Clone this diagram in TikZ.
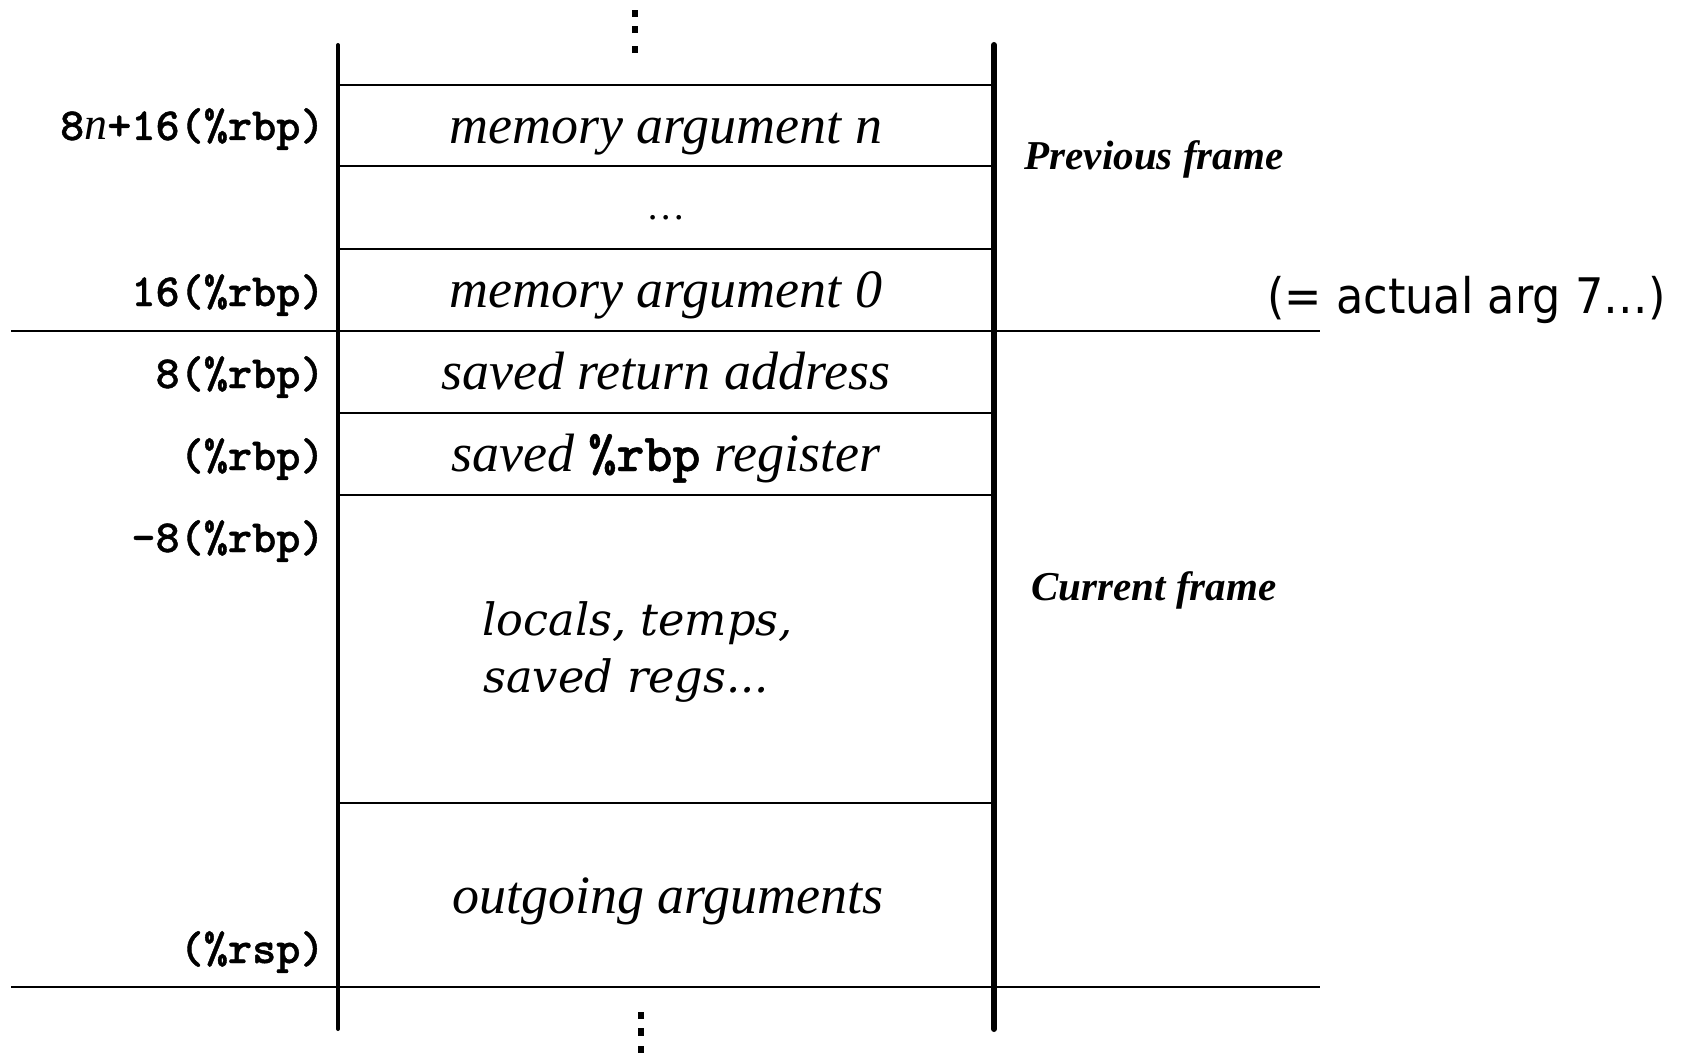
\documentclass[tikz,border=0pt]{standalone}
\usepackage{fontspec}
\setmainfont{Liberation Serif}
\newfontfamily\monof{lmmonolt10-bold.otf}[FakeBold=0.9]
\newfontfamily\dvserif{DejaVu Serif}
\newfontfamily\dvsans{DejaVu Sans}[FakeStretch=0.91]
\begin{document}
\begin{tikzpicture}[x=0.5pt,y=-0.5pt]
\tikzset{
  hline/.style={line width=1.35pt},
  lvline/.style={line width=2pt, line cap=round},
  rvline/.style={line width=3pt, line cap=round},
  addr/.style={anchor=base east, inner sep=0pt, font=\monof\fontsize{23}{27}\selectfont},
  cell/.style={anchor=base, inner sep=0pt, font=\itshape\fontsize{27}{32}\selectfont},
  loc/.style={anchor=base west, inner sep=0pt, font=\dvserif\itshape\fontsize{22.3}{28}\selectfont},
  framelab/.style={anchor=base, inner sep=0pt, font=\bfseries\itshape\fontsize{20.5}{24}\selectfont},
  note/.style={anchor=base west, inner sep=0pt, font=\dvsans\fontsize{24.5}{29}\selectfont},
  dashmark/.style={fill=black}
}
\useasboundingbox (0,0) rectangle (1684,1054);
\fill[white] (0,0) rectangle (1684,1054);

% vertical stack boundaries
\coordinate (Ltop) at (338,45);
\coordinate (Lbot) at (338,1029);
\coordinate (Rtop) at (994,45);
\coordinate (Rbot) at (994,1029);
\draw[lvline] (Ltop) -- (Lbot);
\draw[rvline] (Rtop) -- (Rbot);

% row separators
\foreach \yy in {85,166,249,413,495,803}{
  \draw[hline] (338,\yy) -- (994,\yy);
}
% frame boundaries (long lines)
\coordinate (F1a) at (11,331);
\coordinate (F1b) at (1320,331);
\coordinate (F2a) at (11,987);
\coordinate (F2b) at (1320,987);
\draw[hline] (F1a) -- (F1b);
\draw[hline] (F2a) -- (F2b);

% vertical dots
\fill[dashmark] (632,10) rectangle (638,17);
\fill[dashmark] (632,26) rectangle (638,33);
\fill[dashmark] (632,46) rectangle (638,53);
\fill[dashmark] (638,1012) rectangle (644,1019);
\fill[dashmark] (638,1028) rectangle (644,1036);
\fill[dashmark] (638,1046) rectangle (644,1053);

% address labels
\node[addr] (a1) at (325,140) {8{\rmfamily\itshape n}+16(\%rbp)};
\node[addr] (a2) at (325,306) {16(\%rbp)};
\node[addr] (a3) at (325,388) {8(\%rbp)};
\node[addr] (a4) at (325,470) {(\%rbp)};
\node[addr] (a5) at (325,552) {-8(\%rbp)};
\node[addr] (a6) at (325,963) {(\%rsp)};

% cells
\node[cell] (c1) at (666,143) {memory argument n};
\node[cell, font=\itshape\fontsize{19.5}{23}\selectfont] (c2) at (667,219) {\ldots};
\node[cell] (c3) at (666,307) {memory argument 0};
\node[cell] (c4) at (666,389) {saved return address};
\node[cell] (c5) at (666,471) {saved {\monof\fontsize{26.7}{30}\selectfont\%rbp} register};
\node[loc] (c6a) at (482,635) {locals, temps,};
\node[loc] (c6b) at (483,692) {saved regs...};
\node[cell] (c7) at (668,913) {outgoing arguments};

% frame labels
\node[framelab] (pf) at (1154,169) {Previous frame};
\node[framelab] (cf) at (1154,600) {Current frame};
\node[note] (aa) at (1267,313) {(= actual arg 7…)};
\end{tikzpicture}
\end{document}
